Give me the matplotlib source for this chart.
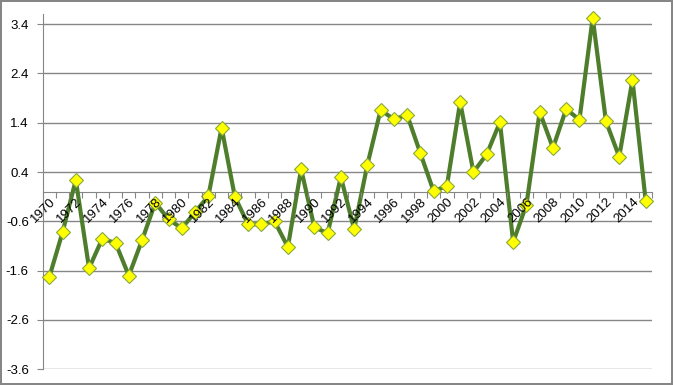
import numpy as np
import matplotlib
matplotlib.use('Agg')
import matplotlib.pyplot as plt

years = list(range(1970, 2016))
values = [-1.73, -0.82, 0.24, -1.55, -0.95, -1.04, -1.70, -0.98, -0.22, -0.56,
          -0.74, -0.41, -0.09, 1.30, -0.10, -0.66, -0.66, -0.60, -1.12, 0.46,
          -0.72, -0.84, 0.30, -0.76, 0.55, 1.66, 1.47, 1.56, 0.78, 0.01,
          0.12, 1.82, 0.40, 0.76, 1.41, -1.02, -0.26, 1.62, 0.89, 1.68,
          1.46, 3.53, 1.43, 0.71, 2.27, -0.19]
yticks = [-3.6, -2.6, -1.6, -0.6, 0.4, 1.4, 2.4, 3.4]

plt.rcParams['font.family'] = ['Liberation Sans', 'DejaVu Sans']

grey = '#868686'
fig = plt.figure(figsize=(6.73, 3.85), dpi=100)
fig.patch.set_edgecolor(grey)
fig.patch.set_linewidth(1.5)
ax = fig.add_axes([0.0634, 0.0408, 0.9059, 0.922])

# gridlines by hand so they stay under the line while the axis labels sit on top
for v in yticks:
    ax.axhline(v, color=grey, lw=1, zorder=1)

x = np.arange(len(years))
ax.plot(x, values, color='#4E7D2B', lw=3, marker='D', markersize=7.5,
        markerfacecolor='#FFFF00', markeredgecolor='#8AA83A', markeredgewidth=0.8,
        zorder=2, clip_on=False)

ax.set_xlim(-0.5, len(years) - 0.5)
ax.set_ylim(-3.6, 3.6)
ax.set_axisbelow(False)

ax.set_yticks(yticks)
ax.set_yticklabels(['%.1f' % v for v in yticks], fontsize=9.5)
ax.tick_params(axis='y', length=4, color=grey, pad=6)

for s in ['top', 'right']:
    ax.spines[s].set_visible(False)
for s in ['left', 'bottom']:
    ax.spines[s].set_color(grey)
    ax.spines[s].set_zorder(1.5)
ax.spines['bottom'].set_position(('data', 0))

ax.set_xticks(np.arange(-0.5, len(years), 1.0))
ax.set_xticklabels([])
ax.tick_params(axis='x', length=4, color=grey, direction='out')
ax.set_xticks(x[::2], minor=True)
ax.set_xticklabels([str(y) for y in years[::2]], minor=True, fontsize=9.5,
                   rotation=45, ha='right', va='top', rotation_mode='anchor')
ax.tick_params(axis='x', which='minor', length=0, pad=3)

fig.savefig('out.png', dpi=100)
